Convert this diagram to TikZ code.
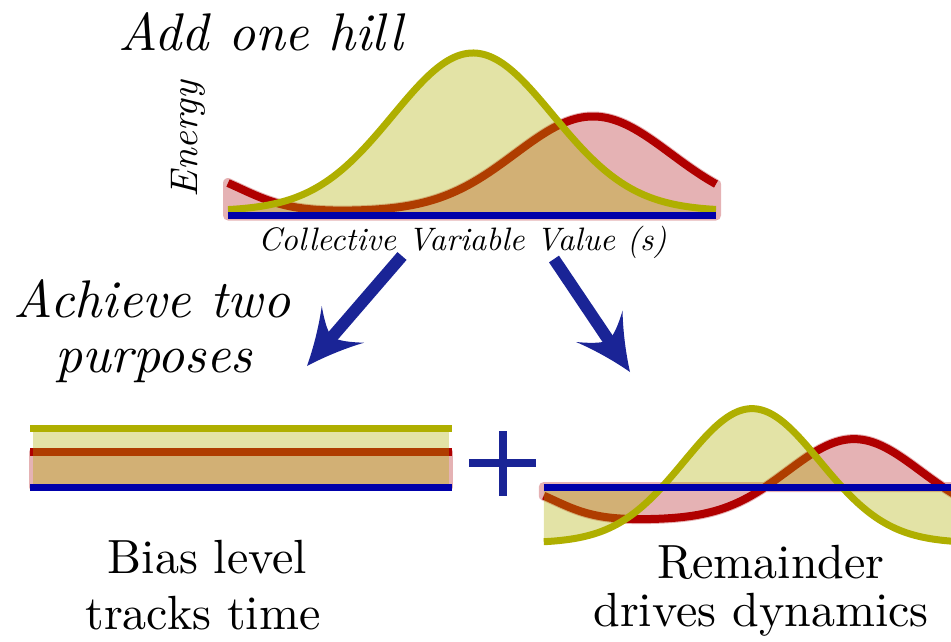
\documentclass[tikz,border=0pt]{standalone}
\usepackage{fontspec}
\setmainfont{lmroman10-regular.otf}[ItalicFont=lmroman10-italic.otf, BoldFont=lmroman10-bold.otf]
\definecolor{cvyellow}{RGB}{175,175,0}
\definecolor{cvred}{RGB}{176,0,0}
\definecolor{cvblue}{RGB}{0,0,170}
\definecolor{pinkfill}{RGB}{229,178,180}
\definecolor{arrowblue}{RGB}{26,36,150}
\pgfdeclarearrow{
  name = Hill,
  setup code = {
    \pgfarrowssettipend{0pt}
    \pgfarrowssetlineend{-36pt}
    \pgfarrowssetvisualbackend{-55pt}
    \pgfarrowssetbackend{-55pt}
    \pgfarrowshullpoint{0pt}{0pt}
    \pgfarrowshullpoint{-55pt}{28pt}
    \pgfarrowshullpoint{-55pt}{-28pt}
  },
  drawing code = {
    \pgfpathmoveto{\pgfpointorigin}
    \pgfpathcurveto{\pgfpoint{-18pt}{7pt}}{\pgfpoint{-38pt}{17pt}}{\pgfpoint{-55pt}{28pt}}
    \pgfpathcurveto{\pgfpoint{-46pt}{17pt}}{\pgfpoint{-40pt}{8pt}}{\pgfpoint{-38pt}{0pt}}
    \pgfpathcurveto{\pgfpoint{-40pt}{-8pt}}{\pgfpoint{-46pt}{-17pt}}{\pgfpoint{-55pt}{-28pt}}
    \pgfpathcurveto{\pgfpoint{-38pt}{-17pt}}{\pgfpoint{-18pt}{-7pt}}{\pgfpointorigin}
    \pgfpathclose
    \pgfusepathqfill
  }
}
\tikzset{
  declare function={
    ry(\x)=211.5-95*exp(-0.5*((\x-593)/78)^2)-38*exp(-0.5*((\x-190)/50)^2);
    yy(\x)=211-158*exp(-0.5*((\x-473)/80)^2);
    rx(\x)=0.85*\x+349.95;
    rry(\x)=0.85*ry(\x)+340.1;
    ryy(\x)=0.85*yy(\x)+363.6;
  },
  pinkarea/.style={fill=pinkfill, draw=pinkfill, line width=10pt, line join=round},
  yellowarea/.style={fill=cvyellow, fill opacity=0.35},
  redline/.style={draw=cvred, line width=8pt},
  yellowline/.style={draw=cvyellow, line width=7pt},
  blueline/.style={draw=cvblue, line width=7pt},
  bigarrow/.style={draw=arrowblue, fill=arrowblue, line width=12pt, -Hill},
  plusbar/.style={draw=arrowblue, line width=8pt},
  lbl/.style={inner sep=0pt, text=black},
  titletext/.style={lbl, font=\fontsize{53}{58}\selectfont\itshape},
  ylabtext/.style={lbl, font=\fontsize{38.5}{42}\selectfont\itshape},
  xlabtext/.style={lbl, font=\fontsize{32.5}{36}\selectfont\itshape},
  bodytext/.style={lbl, font=\fontsize{48}{52}\selectfont},
}
\begin{document}
\begin{tikzpicture}[x=1pt,y=-1pt]
\useasboundingbox (0,0) rectangle (951,641);
\clip (0,0) rectangle (951,641);

% ---------- top plot ----------
\coordinate (topL) at (228,215.5);
\coordinate (topR) at (716,215.5);
\path[pinkarea] plot[domain=228:716,samples=150] (\x,{ry(\x)}) -- (topR) -- (topL) -- cycle;
\draw[redline] plot[domain=228:716,samples=150] (\x,{ry(\x)});
\fill[yellowarea] plot[domain=228:716,samples=150] (\x,{yy(\x)}) -- (topR) -- (topL) -- cycle;
\draw[yellowline] plot[domain=228:716,samples=150] (\x,{yy(\x)});
\draw[blueline] (topL) -- (topR);

\node[titletext, anchor=base west] (addhill) at (118,50) {Add one hill};
\node[ylabtext, rotate=90, anchor=base] (energy) at (197,139) {Energy};
\node[xlabtext, anchor=base west] (cvv) at (258,250) {Collective Variable Value (s)};

% ---------- arrows ----------
\coordinate (a1s) at (402,256);
\coordinate (a1e) at (307,366);
\coordinate (a2s) at (554,259);
\coordinate (a2e) at (630,372);
\draw[bigarrow] (a1s) -- (a1e);
\draw[bigarrow] (a2s) -- (a2e);

\node[titletext, anchor=base] (ach1) at (152,317) {Achieve two};
\node[titletext, anchor=base] (ach2) at (154,372) {purposes};

% ---------- bias level box ----------
\coordinate (bYL) at (30,428.5);
\coordinate (bYR) at (452,428.5);
\coordinate (bRL) at (30,452);
\coordinate (bRR) at (452,452);
\coordinate (bBL) at (30,487);
\coordinate (bBR) at (452,487);
\path[pinkarea, line width=8pt] (33,452) rectangle (449,487);
\draw[redline, line width=7.5pt] (bRL) -- (bRR);
\fill[yellowarea] (33,428.5) rectangle (449,487);
\draw[yellowline] (bYL) -- (bYR);
\draw[blueline] (bBL) -- (bBR);

% ---------- plus ----------
\coordinate (plusW) at (469,463);
\coordinate (plusE) at (536,463);
\coordinate (plusN) at (502.5,431);
\coordinate (plusS) at (502.5,496);
\draw[plusbar] (plusW) -- (plusE);
\draw[plusbar] (plusN) -- (plusS);

% ---------- remainder plot ----------
\coordinate (remL) at (543.75,487);
\coordinate (remR) at (958.55,487);
\path[pinkarea] plot[domain=228:716,samples=150] ({rx(\x)},{rry(\x)}) -- (remR) -- (remL) -- cycle;
\draw[redline] plot[domain=228:716,samples=150] ({rx(\x)},{rry(\x)});
\fill[yellowarea] plot[domain=228:716,samples=150] ({rx(\x)},{ryy(\x)}) -- (remR) -- (remL) -- cycle;
\draw[yellowline] plot[domain=228:716,samples=150] ({rx(\x)},{ryy(\x)});
\draw[blueline] (remL) -- (remR);

% ---------- captions ----------
\node[bodytext, anchor=base] (bias1) at (207.5,573) {Bias level};
\node[bodytext, anchor=base] (bias2) at (203,629) {tracks time};
\node[bodytext, anchor=base] (rem1) at (771,578) {Remainder};
\node[bodytext, anchor=base] (rem2) at (761,626) {drives dynamics};
\end{tikzpicture}
\end{document}
